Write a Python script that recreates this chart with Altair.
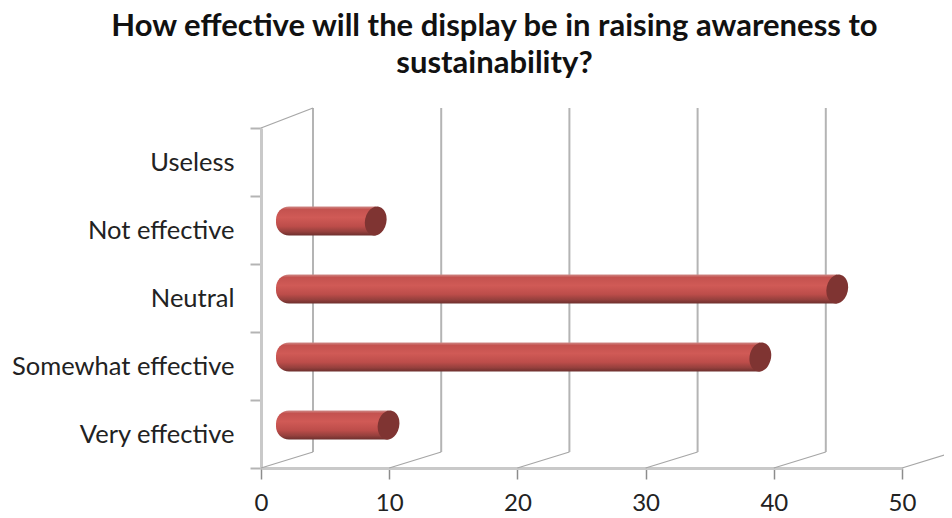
import altair as alt
import pandas as pd

categories = ["Very effective", "Somewhat effective", "Neutral", "Not effective", "Useless"]
values = [8, 37, 43, 7, 0]
x_ticks = [0, 10, 20, 30, 40, 50]
y_ticks = [0, 1, 2, 3, 4, 5]
title_lines = ["How effective will the display be in raising awareness to", "sustainability?"]

PX_X = 641 / 50
PX_Y = 340 / 5
DEPTH_X = 52 / PX_X
DEPTH_Y = 16 / PX_Y
DEPTH_Y_TOP = 20 / PX_Y
HALF_BAR = 14.5 / PX_Y

bars = pd.DataFrame({"cat": categories, "value": values})
bars["start"] = 0
bars["y"] = [i + 0.5 for i in range(len(categories))]
bars["y0"] = bars["y"] - HALF_BAR
bars["y1"] = bars["y"] + HALF_BAR

walls = pd.DataFrame({"x": [0, 10, 20, 30, 40],
                      "y0": [DEPTH_Y] * 5,
                      "y1": [5 + DEPTH_Y_TOP] * 5})
walls["xd"] = walls["x"] + DEPTH_X

diag = pd.DataFrame({"x": x_ticks + [0],
                     "y": [0] * 6 + [5],
                     "y2": [DEPTH_Y] * 6 + [5 + DEPTH_Y_TOP]})
diag["x2"] = diag["x"] + DEPTH_X

x_scale = alt.Scale(domain=[0, 50], nice=False, zero=False)
y_scale = alt.Scale(domain=[0, 5], nice=False, zero=False)
label_expr = "datum.value < 5 ? " + str(categories) + "[datum.value] : ''"

FONT = "Lato"
x_axis = alt.Axis(values=x_ticks, title=None, grid=False, format="d", labelFlush=False,
                  domainColor="#c9c9c9", domainWidth=3, tickColor="#8c8c8c",
                  tickWidth=1.5, tickSize=11, labelFontSize=24, labelFont=FONT,
                  labelColor="#222222", labelPadding=12)
y_axis = alt.Axis(values=y_ticks, title=None, grid=False, labelExpr=label_expr,
                  labelOffset=-34, labelLimit=300, labelFlush=False,
                  domainColor="#c9c9c9", domainWidth=3,
                  tickColor="#b4b4b4", tickWidth=2, tickSize=11,
                  labelFontSize=25.5, labelFont=FONT, labelColor="#222222",
                  labelPadding=16)

back = alt.Chart(walls).mark_rule(color="#b4b4b4", strokeWidth=2).encode(
    x=alt.X("xd:Q", scale=x_scale, axis=x_axis),
    y=alt.Y("y0:Q", scale=y_scale, axis=y_axis),
    y2="y1:Q",
)

diagonals = alt.Chart(diag).mark_rule(color="#a6a6a6", strokeWidth=1.3).encode(
    x=alt.X("x:Q", scale=x_scale),
    x2="x2:Q",
    y=alt.Y("y:Q", scale=y_scale),
    y2="y2:Q",
)

gradient = alt.Gradient(
    gradient="linear", x1=0, y1=0, x2=0, y2=1,
    stops=[
        alt.GradientStop(color="#cf8a87", offset=0),
        alt.GradientStop(color="#c4524f", offset=0.1),
        alt.GradientStop(color="#d05a56", offset=0.38),
        alt.GradientStop(color="#bd4d4a", offset=0.68),
        alt.GradientStop(color="#95403d", offset=0.87),
        alt.GradientStop(color="#6d2f2d", offset=1),
    ],
)

cylinders = alt.Chart(bars).transform_filter("datum.value > 0").mark_bar(
    color=gradient, cornerRadiusTopLeft=13, cornerRadiusBottomLeft=13,
    xOffset=15, x2Offset=25, yOffset=-9, y2Offset=-9
).encode(
    x=alt.X("start:Q", scale=x_scale),
    x2="value:Q",
    y=alt.Y("y0:Q", scale=y_scale),
    y2="y1:Q",
)

ELLIPSE = "M-0.208,0.978 A0.72,1 12 1 1 0.208,-0.978 A0.72,1 12 1 1 -0.208,0.978 Z"
caps = alt.Chart(bars).transform_filter("datum.value > 0").mark_point(
    shape=ELLIPSE, size=860, filled=True, color="#7f3432", opacity=1,
    xOffset=25, yOffset=-9
).encode(
    x=alt.X("value:Q", scale=x_scale),
    y=alt.Y("y:Q", scale=y_scale),
)

chart = alt.layer(back, diagonals, cylinders, caps).properties(
    width=641,
    height=340,
    padding={"left": 253, "top": 120, "right": 42, "bottom": 46},
    autosize=alt.AutoSizeParams(type="none"),
    title=alt.TitleParams(
        text=title_lines, font=FONT, fontSize=31, fontWeight="bold", color="#111111",
        anchor="middle", dx=-87, dy=-23, lineHeight=37,
    ),
).configure_view(stroke=None)

chart.save("out.html", embed_options={"renderer": "svg", "actions": False})
